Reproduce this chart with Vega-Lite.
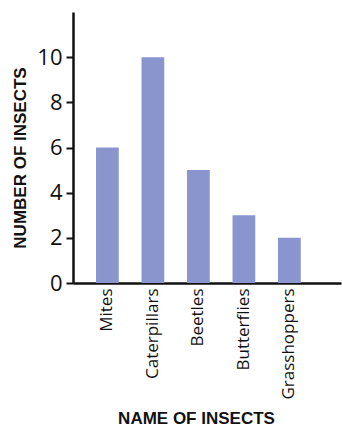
{
  "$schema": "https://vega.github.io/schema/vega-lite/v6.json",
  "width": 268,
  "height": 271,
  "autosize": "none",
  "padding": {"left": 73, "top": 12, "right": 1, "bottom": 144},
  "background": "white",
  "config": {"view": {"stroke": null}},
  "data": {
    "values": [
      {"insect": "Mites", "count": 6},
      {"insect": "Caterpillars", "count": 10},
      {"insect": "Beetles", "count": 5},
      {"insect": "Butterflies", "count": 3},
      {"insect": "Grasshoppers", "count": 2}
    ]
  },
  "mark": {"type": "bar", "color": "#8995CC"},
  "encoding": {
    "x": {
      "field": "insect",
      "type": "nominal",
      "sort": null,
      "scale": {"paddingInner": 0.5, "paddingOuter": 0.695, "align": 0.364},
      "axis": {
        "title": "NAME OF INSECTS",
        "titleFont": "Liberation Sans",
        "titleFontWeight": "bold",
        "titleFontSize": 17,
        "titleColor": "#111",
        "titleX": 123,
        "titleY": 140,
        "titleBaseline": "alphabetic",
        "titleAlign": "center",
        "labelAngle": -90,
        "labelFont": "Open Sans",
        "labelFontSize": 17,
        "labelColor": "#111",
        "labelPadding": 5,
        "ticks": false,
        "domainColor": "#111",
        "domainWidth": 2.5,
        "grid": false
      }
    },
    "y": {
      "field": "count",
      "type": "quantitative",
      "scale": {"domain": [0, 12], "nice": false},
      "axis": {
        "values": [0, 2, 4, 6, 8, 10],
        "title": "NUMBER OF INSECTS",
        "titleFont": "Liberation Sans",
        "titleFontWeight": "bold",
        "titleFontSize": 17,
        "titleColor": "#111",
        "titleAngle": -90,
        "titleX": -48,
        "titleY": 145.5,
        "titleBaseline": "alphabetic",
        "titleAlign": "center",
        "labelFont": "Open Sans",
        "labelFontSize": 22,
        "labelColor": "#111",
        "labelPadding": 4,
        "tickColor": "#111",
        "tickWidth": 2,
        "tickSize": 7,
        "domainColor": "#111",
        "domainWidth": 2.5,
        "grid": false
      }
    }
  }
}
